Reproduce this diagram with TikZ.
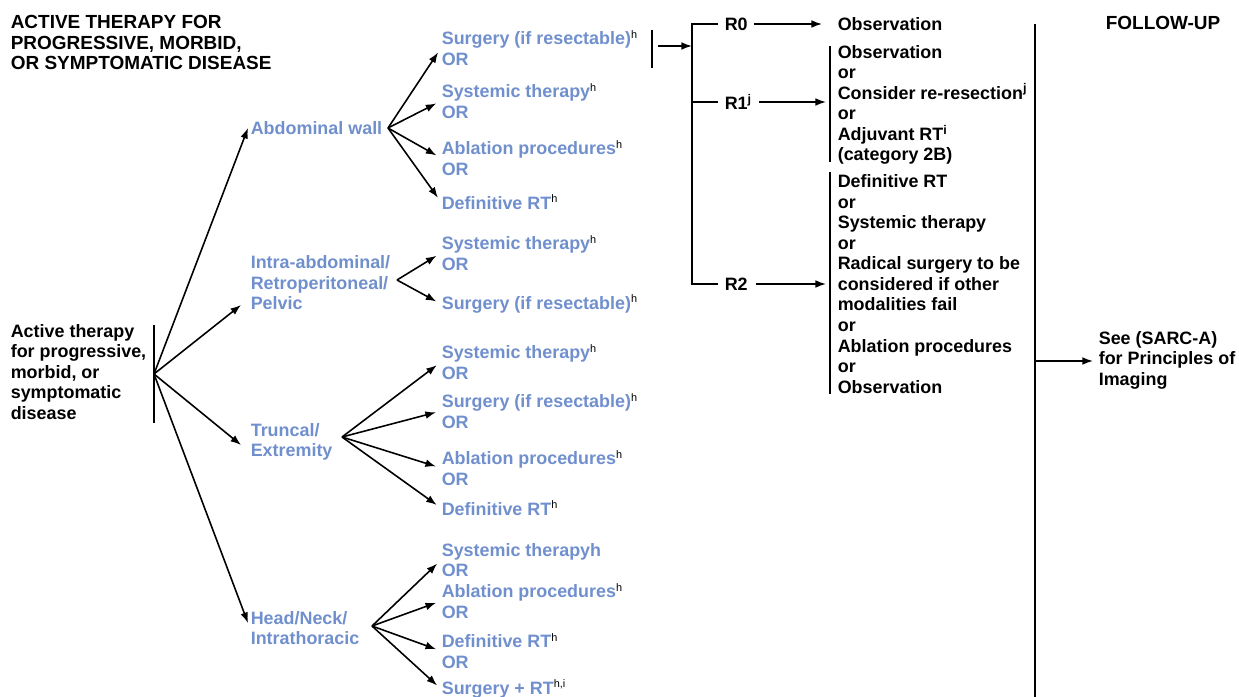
\documentclass[tikz,border=0pt]{standalone}
\usepackage{fontspec}
\setmainfont{Liberation Sans}
\usetikzlibrary{arrows.meta,calc}
\definecolor{optblue}{RGB}{112,143,205}
\newcommand{\fnote}[1]{\textsuperscript{\color{black}\mdseries\fontsize{6.2}{7}\selectfont #1}}

\begin{document}
\begin{tikzpicture}[x = 0.02cm, y = -0.02cm, line width = 0.9pt,
    every node/.style = {font = \fontsize{10.2}{11.7}\selectfont\bfseries,
        inner sep = 0pt, anchor = west, align = left},
    head/.style = {font = \fontsize{10.8}{11.7}\selectfont\bfseries},
    opt/.style = {text = optblue},
    arr/.style = {-{Latex[length = 6pt, width = 4.4pt]}},
    optarr/.style = {arr, shorten > = 3pt}]
    \useasboundingbox (0,0) rectangle (1239,696);

            % headings
            \node[head] (hdr) at (10,42.5) {ACTIVE THERAPY FOR\\PROGRESSIVE, MORBID,\\OR SYMPTOMATIC DISEASE};
            \node[head] (fuhdr) at (1105,23) {FOLLOW-UP};

            \node (root) at (10,372) {Active therapy\\for progressive,\\morbid, or\\symptomatic\\disease};
            \draw (154,325) -- (154,423);
            \coordinate (rootb) at (154,374);

            % sites
            \node[opt] (aw) at (250,128) {Abdominal wall};
            \node[opt] (ia) at (250,283) {Intra-abdominal/\\Retroperitoneal/\\Pelvic};
            \node[opt] (tr) at (250,442) {Truncal/\\Extremity};
            \node[opt] (hn) at (250,628) {Head/Neck/\\Intrathoracic};

            \draw[arr] (rootb) -- ($(aw.west)+(-2,0)$);
            \draw[arr] (rootb) -- ($(ia.west)+(-9,22)$);
            \draw[arr] (rootb) -- ($(tr.west)+(-9,3)$);
            \draw[arr] (rootb) -- ($(hn.west)+(-2,-5)$);

            \coordinate (awb) at (388,128);
            \coordinate (iab) at (397,280);
            \coordinate (trb) at (342,437);
            \coordinate (hnb) at (372,626);

            % options
            \node[opt] (aw1) at (441,48) {Surgery (if resectable)\fnote{h}\\OR};
            \node[opt] (aw2) at (441,101) {Systemic therapy\fnote{h}\\OR};
            \node[opt] (aw3) at (441,158) {Ablation procedures\fnote{h}\\OR};
            \node[opt] (aw4) at (441,202) {Definitive RT\fnote{h}};

            \node[opt] (ia1) at (441,253) {Systemic therapy\fnote{h}\\OR};
            \node[opt] (ia2) at (441,304) {Surgery (if resectable)\fnote{h}};

            \node[opt] (tr1) at (441,362) {Systemic therapy\fnote{h}\\OR};
            \node[opt] (tr2) at (441,411) {Surgery (if resectable)\fnote{h}\\OR};
            \node[opt] (tr3) at (441,468) {Ablation procedures\fnote{h}\\OR};
            \node[opt] (tr4) at (441,508) {Definitive RT\fnote{h}};

            \node[opt] (hn1) at (441,560) {Systemic therapyh\\OR};
            \node[opt] (hn2) at (441,601) {Ablation procedures\fnote{h}\\OR};
            \node[opt] (hn3) at (441,651) {Definitive RT\fnote{h}\\OR};
            \node[opt] (hn4) at (441,689) {Surgery + RT\fnote{h,i}};

            \foreach \n in {aw1,aw2,aw3,aw4} \draw[optarr] (awb) -- (\n.west);
            \foreach \n in {ia1,ia2} \draw[optarr] (iab) -- (\n.west);
            \foreach \n in {tr1,tr2,tr3,tr4} \draw[optarr] (trb) -- (\n.west);
            \foreach \n in {hn1,hn2,hn3,hn4} \draw[optarr] (hnb) -- (\n.west);

            % margins
            \draw (652,30) -- (652,68);
            \coordinate (sb) at (652,46);
            \coordinate (rin) at (692,46);
            \draw[arr] ($(sb)+(6,0)$) -- (rin);

            \node (r0) at (724,24) {R0};
            \node (r1) at (724,102) {R1\textsuperscript{j}};
            \node (r2) at (724,284) {R2};
            \draw ($(r0.west)+(-6,0)$) -- (692,24) |- ($(r2.west)+(-6,0)$);
            \draw ($(r1.west)+(-6,0)$) -- (692,102);

            \node (o0) at (837,24) {Observation};
            \node (o1) at (837,105) {Observation\\or\\Consider re-resection\textsuperscript{j}\\or\\Adjuvant RT\textsuperscript{i}\\(category 2B)};
            \node (o2) at (837,284) {Definitive RT\\or\\Systemic therapy\\or\\Radical surgery to be\\considered if other\\modalities fail\\or\\Ablation procedures\\or\\Observation};
            \draw ($(o1.north west)+(-7,2)$) -- ($(o1.south west)+(-7,-4)$);
            \draw ($(o2.north west)+(-7,-2)$) -- ($(o2.south west)+(-7,0)$);

            \draw[arr] ($(r0.east)+(5,0)$) -- ($(o0.west)+(-15,0)$);
            \draw[arr] ($(r1.east)+(6,0)$) -- ($(o1.west)+(-11,-3)$);
            \draw[arr] ($(r2.east)+(7,0)$) -- ($(o2.west)+(-11,0)$);

            % follow-up
            \node (fu) at (1098,360) {See (SARC-A)\\for Principles of\\Imaging};
            \draw (1035,24) -- (1035,700);
            \draw[arr] (1035,361) -- ($(fu.west)+(-5,1)$);
    \end{tikzpicture}
\end{document}
